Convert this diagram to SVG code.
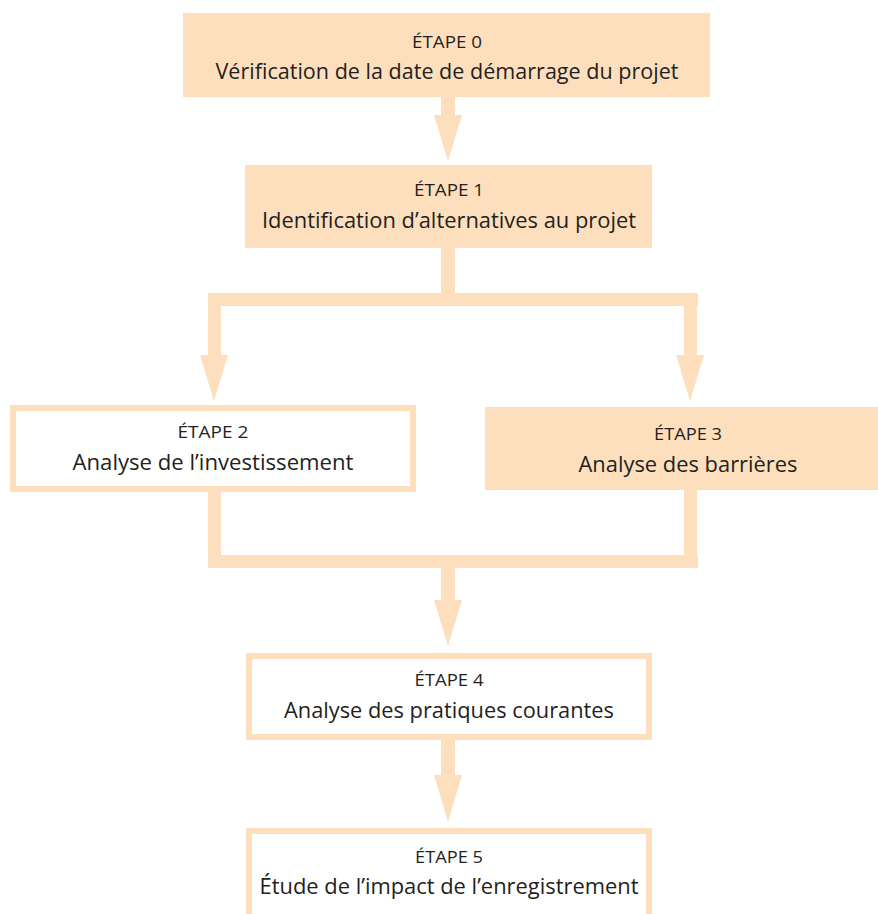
<svg xmlns="http://www.w3.org/2000/svg" width="878" height="914" viewBox="0 0 878 914">
<style>
.fill{fill:#FDDFBE;}
.open{fill:#FFFFFF;stroke:#FDDFBE;stroke-width:6;}
.conn{fill:#FDDFBE;}
.lbl{font-family:"Open Sans","Noto Sans",sans-serif;font-size:17px;fill:#231F20;text-anchor:middle;}
.main{font-family:"Open Sans","Noto Sans",sans-serif;font-size:21px;fill:#231F20;text-anchor:middle;}
</style>
<rect width="878" height="914" fill="#FFFFFF"/>
<g id="connectors">
  <rect class="conn" x="441" y="96" width="14" height="20"/>
  <polygon class="conn" points="434,115 462,115 448,161"/>
  <rect class="conn" x="441" y="247" width="14" height="50"/>
  <rect class="conn" x="208" y="293" width="490" height="13"/>
  <rect class="conn" x="208" y="293" width="13" height="63"/>
  <polygon class="conn" points="200,355 228,355 214,401"/>
  <rect class="conn" x="684" y="293" width="13" height="63"/>
  <polygon class="conn" points="676,355 704,355 690,401"/>
  <rect class="conn" x="208" y="492" width="13" height="75"/>
  <rect class="conn" x="684" y="489" width="13" height="78"/>
  <rect class="conn" x="208" y="555" width="490" height="13"/>
  <rect class="conn" x="441" y="566" width="14" height="36"/>
  <polygon class="conn" points="434,600 462,600 448,646"/>
  <rect class="conn" x="441" y="740" width="14" height="37"/>
  <polygon class="conn" points="434,775 462,775 448,822"/>
</g>
<g id="step0">
  <rect class="fill" x="183" y="13" width="527" height="84"/>
  <text class="lbl" x="447" y="48" textLength="70" lengthAdjust="spacingAndGlyphs">ÉTAPE 0</text>
  <text class="main" x="447" y="79" textLength="463" lengthAdjust="spacingAndGlyphs">Vérification de la date de démarrage du projet</text>
</g>
<g id="step1">
  <rect class="fill" x="245" y="165" width="407" height="83"/>
  <text class="lbl" x="449" y="196" textLength="70" lengthAdjust="spacingAndGlyphs">ÉTAPE 1</text>
  <text class="main" x="449" y="228" textLength="374" lengthAdjust="spacingAndGlyphs">Identification d’alternatives au projet</text>
</g>
<g id="step2">
  <rect class="open" x="13" y="408" width="400" height="81"/>
  <text class="lbl" x="213" y="438" textLength="71" lengthAdjust="spacingAndGlyphs">ÉTAPE 2</text>
  <text class="main" x="213" y="470" textLength="281" lengthAdjust="spacingAndGlyphs">Analyse de l’investissement</text>
</g>
<g id="step3">
  <rect class="fill" x="485" y="407" width="393" height="83"/>
  <text class="lbl" x="688" y="440" textLength="68" lengthAdjust="spacingAndGlyphs">ÉTAPE 3</text>
  <text class="main" x="688" y="472" textLength="219" lengthAdjust="spacingAndGlyphs">Analyse des barrières</text>
</g>
<g id="step4">
  <rect class="open" x="249" y="656" width="400" height="81"/>
  <text class="lbl" x="449" y="686" textLength="69" lengthAdjust="spacingAndGlyphs">ÉTAPE 4</text>
  <text class="main" x="449" y="718" textLength="330" lengthAdjust="spacingAndGlyphs">Analyse des pratiques courantes</text>
</g>
<g id="step5">
  <rect class="open" x="249" y="831" width="400" height="100"/>
  <text class="lbl" x="449" y="863" textLength="68" lengthAdjust="spacingAndGlyphs">ÉTAPE 5</text>
  <text class="main" x="449" y="894" textLength="379" lengthAdjust="spacingAndGlyphs">Étude de l’impact de l’enregistrement</text>
</g>
</svg>
